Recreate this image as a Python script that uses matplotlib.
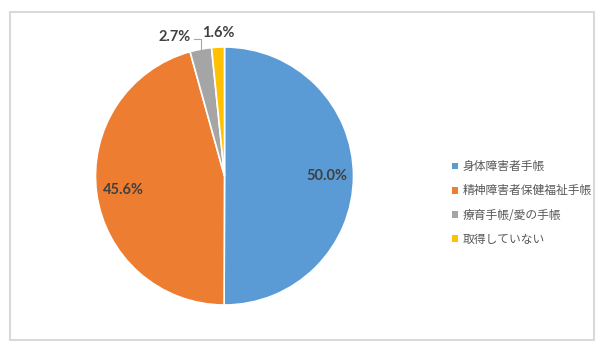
import numpy as np
import matplotlib.pyplot as plt
from matplotlib.patches import Rectangle

plt.rcParams['font.family'] = ['Noto Sans CJK JP', 'DejaVu Sans']

labels = ['身体障害者手帳', '精神障害者保健福祉手帳', '療育手帳/愛の手帳', '取得していない']
values = [50.0, 45.6, 2.7, 1.6]
colors = ['#5B9BD5', '#ED7D31', '#A5A5A5', '#FFC000']

fig = plt.figure(figsize=(6, 3.52), dpi=100)

# outer chart frame
fig.patches.append(Rectangle((10 / 600, 12 / 352), 584 / 600, 328 / 352, transform=fig.transFigure,
                             fill=False, edgecolor='#d9d9d9', linewidth=1.5))

cx, cy, r = 224.5, 176, 129
ax = fig.add_axes([(cx - r) / 600, (352 - cy - r) / 352, 2 * r / 600, 2 * r / 352])
wedges, texts, pcts = ax.pie(values, colors=colors, startangle=90, counterclock=False,
                             autopct='%.1f%%', pctdistance=0.79,
                             wedgeprops=dict(edgecolor='white', linewidth=1.2),
                             textprops=dict(fontsize=10.5, fontweight='bold', color='#404040',
                                            family=['Lato', 'DejaVu Sans']))
# values as given in the source (they sum to 99.9, so autopct would rescale)
for t, v in zip(pcts, values):
    t.set_text(f'{v:.1f}%')
ax.set_xlim(-1, 1)
ax.set_ylim(-1, 1)
ax.axis('off')

# small slices: labels outside
pcts[2].set_position((-0.384, 1.078))
pcts[3].set_position((-0.05, 1.109))
w = wedges[2]
mid = np.deg2rad((w.theta1 + w.theta2) / 2)
x0, y0 = np.cos(mid), np.sin(mid)
ax.plot([x0, x0, x0 - 0.055], [y0, 1.06, 1.06], color='#a6a6a6', lw=0.8, clip_on=False)

leg = fig.legend(wedges, labels, loc='center left', bbox_to_anchor=(441 / 600, 1 - 203 / 352),
                 frameon=False, fontsize=8.5, handlelength=0.5, handleheight=0.5,
                 handletextpad=0.4, labelspacing=0.95, labelcolor='#595959')
for h in leg.legend_handles:
    h.set_edgecolor('none')

fig.savefig('out.png', dpi=100)
